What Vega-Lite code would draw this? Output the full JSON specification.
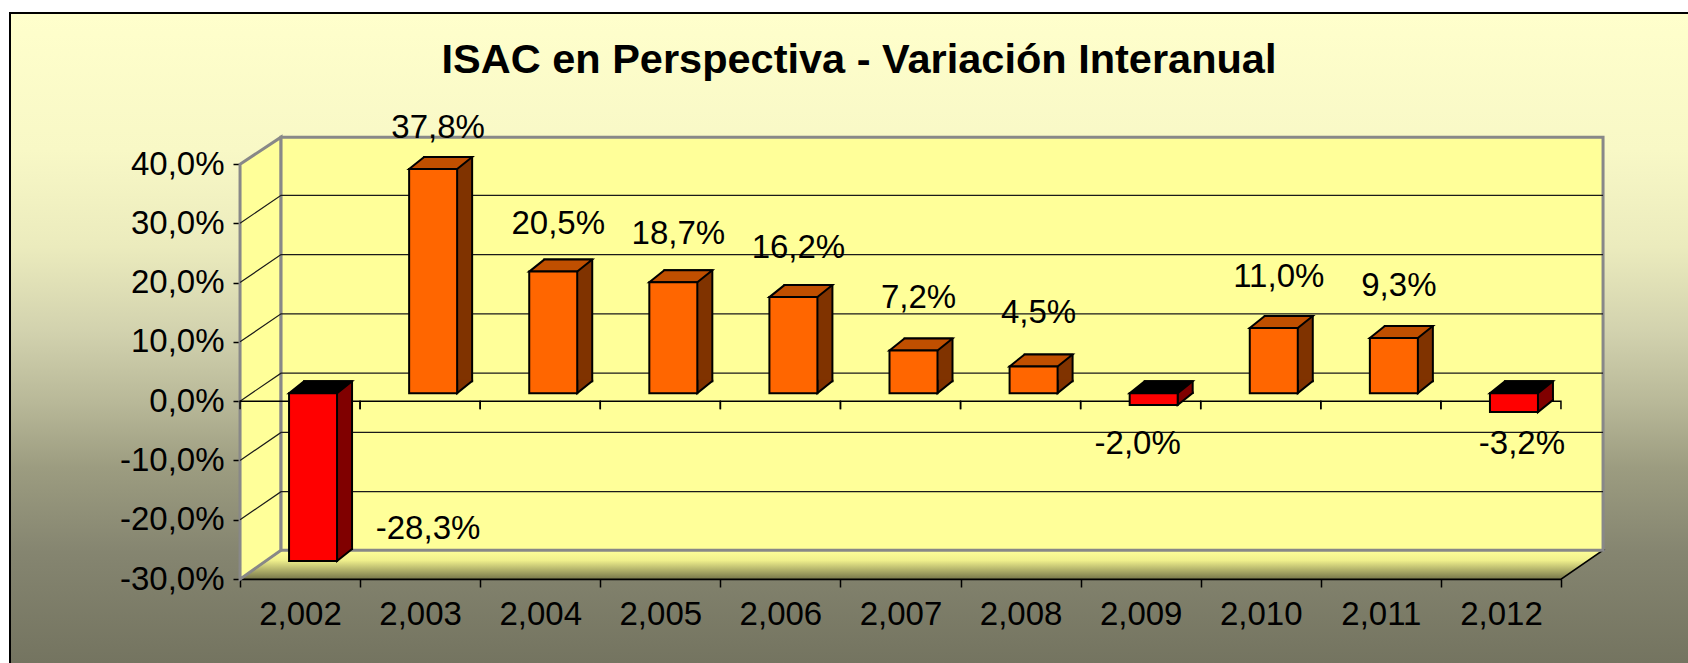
{
  "$schema": "https://vega.github.io/schema/vega-lite/v6.json",
  "width": 1678,
  "height": 650,
  "padding": {"left": 10, "top": 13, "right": 0, "bottom": 0},
  "autosize": {"type": "none"},
  "background": "white",
  "config": {
    "font": "Liberation Sans",
    "locale": {"number": {"decimal": ",", "thousands": ".", "grouping": [3], "currency": ["", " €"], "minus": "-"}},
    "view": {
      "stroke": "black",
      "strokeWidth": 2,
      "strokeDash": [1678, 2328, 660, 10],
      "fill": {"gradient": "linear", "x1": 0, "y1": 0, "x2": 0, "y2": 1, "stops": [
        {"offset": 0, "color": "#FFFFCC"},
        {"offset": 0.21, "color": "#F8F8C6"},
        {"offset": 0.36, "color": "#EBEBBD"},
        {"offset": 0.49, "color": "#D2D2AE"},
        {"offset": 0.6, "color": "#B8B898"},
        {"offset": 0.7, "color": "#9C9C80"},
        {"offset": 0.83, "color": "#858570"},
        {"offset": 1, "color": "#747460"}
      ]}
    },
    "axisX": {"orient": "bottom", "offset": -84, "tickBand": "extent", "grid": false, "labelAngle": 0,
      "domainColor": "black", "domainWidth": 1.5, "tickColor": "black", "tickWidth": 1.5, "tickSize": 8,
      "labelFontSize": 33, "labelColor": "black", "labelPadding": 11, "zindex": 2},
    "axisY": {"offset": -230, "grid": false,
      "domainColor": "black", "domainWidth": 1.5, "tickColor": "black", "tickWidth": 1.5, "tickSize": 7,
      "labelFontSize": 33, "labelColor": "black", "labelPadding": 9, "labelFlush": false, "labelOverlap": false, "zindex": 2}
  },
  "title": {
    "text": "ISAC en Perspectiva - Variación Interanual",
    "fontSize": 41.5,
    "fontWeight": "bold",
    "color": "black",
    "anchor": "middle",
    "frame": "group",
    "orient": "top",
    "offset": -101,
    "baseline": "alphabetic",
    "dx": 10
  },
  "datasets": {
    "bars": [
      {"year": 2002, "v": -0.283},
      {"year": 2003, "v": 0.378},
      {"year": 2004, "v": 0.205},
      {"year": 2005, "v": 0.187},
      {"year": 2006, "v": 0.162},
      {"year": 2007, "v": 0.072},
      {"year": 2008, "v": 0.045},
      {"year": 2009, "v": -0.020},
      {"year": 2010, "v": 0.110},
      {"year": 2011, "v": 0.093},
      {"year": 2012, "v": -0.032}
    ],
    "grid": [
      {"v": -0.2}, {"v": -0.1}, {"v": 0}, {"v": 0.1}, {"v": 0.2}, {"v": 0.3}
    ],
    "one": [{"k": 1}]
  },
  "data": {"name": "bars"},
  "resolve": {"scale": {"y": "independent"}},
  "layer": [
    {
      "layer": [
        {
          "data": {"name": "one"},
          "mark": {"type": "point", "shape": "M -19 149 L 1303 149 L 1261 178 L -60 178 Z", "size": 4, "opacity": 1, "filled": true,
            "fill": {"gradient": "linear", "x1": 0, "y1": 0, "x2": 0, "y2": 1, "stops": [
              {"offset": 0, "color": "#FFFF99"},
              {"offset": 0.35, "color": "#F0F08C"},
              {"offset": 1, "color": "#76764A"}
            ]},
            "stroke": "black", "strokeWidth": 1.5},
          "encoding": {
            "x": {"datum": 2002, "type": "ordinal", "title": null, "scale": {"type": "band", "domain": [2002,2003,2004,2005,2006,2007,2008,2009,2010,2011,2012], "range": [230, 1551], "paddingInner": 0, "paddingOuter": 0}},
            "y": {"datum": 0, "type": "quantitative", "title": null, "scale": {"domain": [-0.3, 0.4], "range": [566, 151], "nice": false, "zero": false}}
          }
        },
        {
          "data": {"name": "one"},
          "mark": {"type": "point", "shape": "M -60 -237 L -19 -264 L -19 149 L -60 178 Z", "size": 4, "opacity": 1, "filled": true, "fill": "#FFFF99", "stroke": "#888888", "strokeWidth": 3},
          "encoding": {
            "x": {"datum": 2002, "type": "ordinal", "title": null},
            "y": {"datum": 0, "type": "quantitative", "title": null}
          }
        },
        {
          "data": {"name": "one"},
          "mark": {"type": "point", "shape": "M -19 -264 L 1303 -264 L 1303 149 L -19 149 Z", "size": 4, "opacity": 1, "filled": true, "fill": "#FFFF99", "stroke": "#888888", "strokeWidth": 3},
          "encoding": {
            "x": {"datum": 2002, "type": "ordinal", "title": null},
            "y": {"datum": 0, "type": "quantitative", "title": null}
          }
        },
        {
          "data": {"name": "grid"},
          "mark": {"type": "point", "shape": "M -60 0 L -19 -28 L 1303 -28", "size": 4, "opacity": 1, "filled": false, "fill": "transparent", "stroke": "#1a1a1a", "strokeWidth": 1.2},
          "encoding": {
            "x": {"datum": 2002, "type": "ordinal", "title": null},
            "y": {"field": "v", "type": "quantitative", "title": null}
          }
        },
        {
          "mark": {"type": "point", "shape": "M -60 8 L -60 0 L 60 0 L 60 8", "size": 4, "opacity": 1, "filled": false, "fill": "transparent", "stroke": "black", "strokeWidth": 1.5},
          "encoding": {
            "x": {"field": "year", "type": "ordinal", "title": null},
            "y": {"datum": 0, "type": "quantitative", "title": null}
          }
        },
        {
          "mark": {"type": "bar", "width": 48, "xOffset": 28, "yOffset": -20, "y2Offset": -20, "stroke": "black", "strokeWidth": 2},
          "encoding": {
            "x": {"field": "year", "type": "ordinal", "title": null},
            "y": {"field": "v", "type": "quantitative", "title": null},
            "y2": {"datum": 0},
            "fill": {"condition": {"test": "datum.v < 0", "value": "#800000"}, "value": "#803300"}
          }
        },
        {
          "transform": [{"filter": "datum.v >= 0"}],
          "mark": {"type": "point", "shape": "M 52 -21.5 L 52 -20 L 37 -8 L 37 -21.5", "size": 4, "opacity": 1, "filled": true, "fill": "#803300", "stroke": "black", "strokeWidth": 2},
          "encoding": {
            "x": {"field": "year", "type": "ordinal", "title": null},
            "y": {"datum": 0, "type": "quantitative", "title": null}
          }
        },
        {
          "transform": [{"filter": "datum.v < 0"}],
          "mark": {"type": "point", "shape": "M 52 -21.5 L 52 -20 L 37 -8 L 37 -21.5", "size": 4, "opacity": 1, "filled": true, "fill": "#800000", "stroke": "black", "strokeWidth": 2},
          "encoding": {
            "x": {"field": "year", "type": "ordinal", "title": null},
            "y": {"field": "v", "type": "quantitative", "title": null}
          }
        },
        {
          "transform": [{"filter": "datum.v >= 0"}],
          "mark": {"type": "point", "shape": "M -11 -8 L 37 -8 L 52 -20 L 4 -20 Z", "size": 4, "opacity": 1, "filled": true, "fill": "#C04F00", "stroke": "black", "strokeWidth": 2},
          "encoding": {
            "x": {"field": "year", "type": "ordinal", "title": null},
            "y": {"field": "v", "type": "quantitative", "title": null}
          }
        },
        {
          "transform": [{"filter": "datum.v < 0"}],
          "mark": {"type": "point", "shape": "M -11 -8 L 37 -8 L 52 -20 L 4 -20 Z", "size": 4, "opacity": 1, "filled": true, "fill": "#000000", "stroke": "black", "strokeWidth": 2},
          "encoding": {
            "x": {"field": "year", "type": "ordinal", "title": null},
            "y": {"datum": 0, "type": "quantitative", "title": null}
          }
        },
        {
          "mark": {"type": "bar", "width": 48, "xOffset": 13, "yOffset": -8, "y2Offset": -8, "stroke": "black", "strokeWidth": 2},
          "encoding": {
            "x": {"field": "year", "type": "ordinal", "title": null,
              "axis": {"orient": "bottom", "title": null, "labelExpr": "isValid(datum.value) ? replace(format(datum.value, ',d'), '.', ',') : ''"}},
            "y": {"field": "v", "type": "quantitative", "title": null,
              "axis": {"orient": "left", "title": null, "values": [-0.3, -0.2, -0.1, 0, 0.1, 0.2, 0.3, 0.4], "format": ".1%"}},
            "y2": {"datum": 0},
            "fill": {"condition": {"test": "datum.v < 0", "value": "#FF0000"}, "value": "#FF6600"}
          }
        },
        {
          "transform": [{"filter": "datum.year == 2002"}],
          "mark": {"type": "text", "fontSize": 33, "color": "black", "baseline": "middle", "dx": 128, "dy": -40},
          "encoding": {
            "x": {"field": "year", "type": "ordinal", "title": null},
            "y": {"field": "v", "type": "quantitative", "title": null},
            "text": {"field": "v", "type": "quantitative", "format": ".1%"}
          }
        },
        {
          "transform": [{"filter": "datum.year == 2009"}],
          "mark": {"type": "text", "fontSize": 33, "color": "black", "baseline": "middle", "dx": -3, "dy": 31},
          "encoding": {
            "x": {"field": "year", "type": "ordinal", "title": null},
            "y": {"field": "v", "type": "quantitative", "title": null},
            "text": {"field": "v", "type": "quantitative", "format": ".1%"}
          }
        },
        {
          "transform": [{"filter": "datum.year == 2012"}],
          "mark": {"type": "text", "fontSize": 33, "color": "black", "baseline": "middle", "dx": 21, "dy": 24},
          "encoding": {
            "x": {"field": "year", "type": "ordinal", "title": null},
            "y": {"field": "v", "type": "quantitative", "title": null},
            "text": {"field": "v", "type": "quantitative", "format": ".1%"}
          }
        }
      ]
    },
    {
      "transform": [{"filter": "datum.v > 0"}],
      "mark": {"type": "text", "fontSize": 33, "color": "black", "baseline": "middle", "dx": 18},
      "encoding": {
        "x": {"field": "year", "type": "ordinal", "title": null},
        "y": {"field": "v", "type": "quantitative", "scale": {"domain": [-0.4335, 0.313], "range": [566, 151], "nice": false, "zero": false}, "axis": null},
        "text": {"field": "v", "type": "quantitative", "format": ".1%"}
      }
    }
  ]
}
